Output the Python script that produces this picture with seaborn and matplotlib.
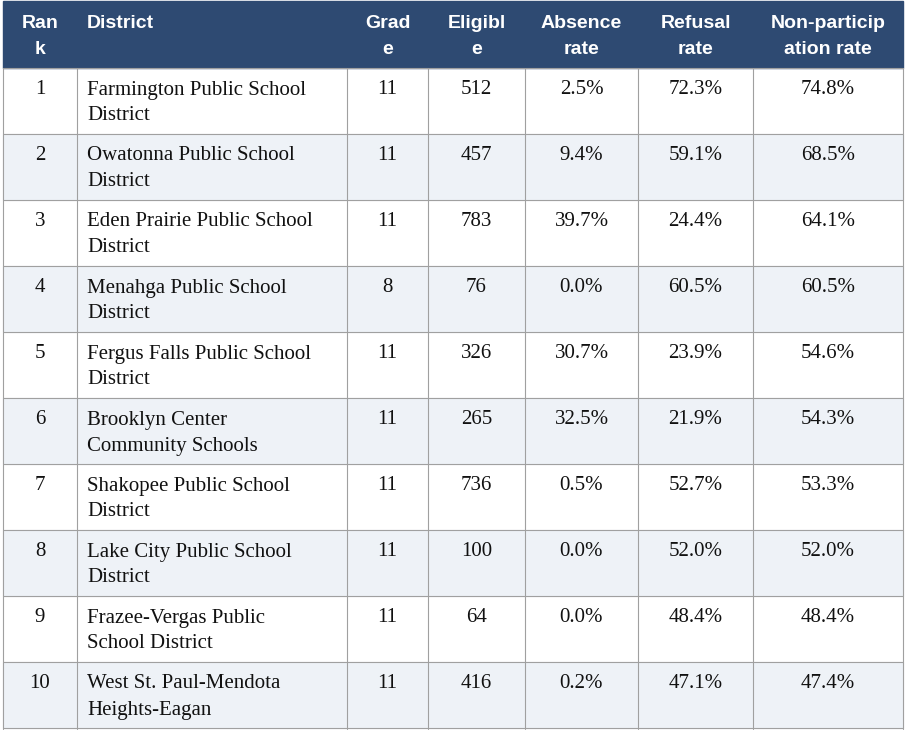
import matplotlib
matplotlib.use("Agg")
import matplotlib.pyplot as plt
import seaborn as sns
from matplotlib.patches import Rectangle

sns.set_theme(style="white")

headers = ["Ran\nk", "District", "Grad\ne", "Eligibl\ne", "Absence\nrate", "Refusal\nrate", "Non-particip\nation rate"]
ranks = ["1", "2", "3", "4", "5", "6", "7", "8", "9", "10"]
districts = ["Farmington Public School\nDistrict", "Owatonna Public School\nDistrict",
             "Eden Prairie Public School\nDistrict", "Menahga Public School\nDistrict",
             "Fergus Falls Public School\nDistrict", "Brooklyn Center\nCommunity Schools",
             "Shakopee Public School\nDistrict", "Lake City Public School\nDistrict",
             "Frazee-Vergas Public\nSchool District", "West St. Paul-Mendota\nHeights-Eagan"]
grades = ["11", "11", "11", "8", "11", "11", "11", "11", "11", "11"]
eligible = ["512", "457", "783", "76", "326", "265", "736", "100", "64", "416"]
absence = ["2.5%", "9.4%", "39.7%", "0.0%", "30.7%", "32.5%", "0.5%", "0.0%", "0.0%", "0.2%"]
refusal = ["72.3%", "59.1%", "24.4%", "60.5%", "23.9%", "21.9%", "52.7%", "52.0%", "48.4%", "47.1%"]
nonpart = ["74.8%", "68.5%", "64.1%", "60.5%", "54.6%", "54.3%", "53.3%", "52.0%", "48.4%", "47.4%"]

cols = [3, 77, 347, 428, 525, 638, 753, 903]
header_h = 68
row_h = 66
header_color = "#2E4A72"
alt_color = "#EEF2F7"
line_color = "#A0A0A0"

fig = plt.figure(figsize=(9.06, 7.36), dpi=100)
ax = fig.add_axes([0, 0, 1, 1])
ax.set_xlim(0, 906)
ax.set_ylim(736, 0)
ax.axis("off")

top, bottom = 1, header_h + row_h * len(ranks) + 1
ax.add_patch(Rectangle((cols[0], top), cols[-1] - cols[0], header_h - top, color=header_color, zorder=0))
for i in range(len(ranks)):
    y0 = header_h + i * row_h
    if i % 2 == 1:
        ax.add_patch(Rectangle((cols[0], y0), cols[-1] - cols[0], row_h, color=alt_color, zorder=0))

hstyle = dict(color="white", fontsize=14, fontweight="bold", family="Liberation Sans", va="center")
for j, h in enumerate(headers):
    lines = h.split("\n")
    for k, ln in enumerate(lines):
        if j == 1:
            ax.text(cols[1] + 10, 24 + 26 * k, ln, ha="left", **hstyle)
        else:
            ax.text((cols[j] + cols[j + 1]) / 2, 24 + 26 * k, ln, ha="center", **hstyle)

bstyle = dict(color="#111111", fontsize=15, family="Liberation Serif", va="center")
columns = [ranks, districts, grades, eligible, absence, refusal, nonpart]
for i in range(len(ranks)):
    y0 = header_h + i * row_h
    for j, col in enumerate(columns):
        for k, ln in enumerate(col[i].split("\n")):
            if j == 1:
                ax.text(cols[1] + 10, y0 + 22 + 26 * k, ln, ha="left", **bstyle)
            else:
                ax.text((cols[j] + cols[j + 1]) / 2, y0 + 22 + 26 * k, ln, ha="center", **bstyle)

for x in cols:
    ax.plot([x, x], [header_h, bottom], color=line_color, lw=0.8)
for i in range(len(ranks) + 1):
    y = header_h + i * row_h
    ax.plot([cols[0], cols[-1]], [y, y], color=line_color, lw=0.8)

fig.savefig("out.png", dpi=100)
